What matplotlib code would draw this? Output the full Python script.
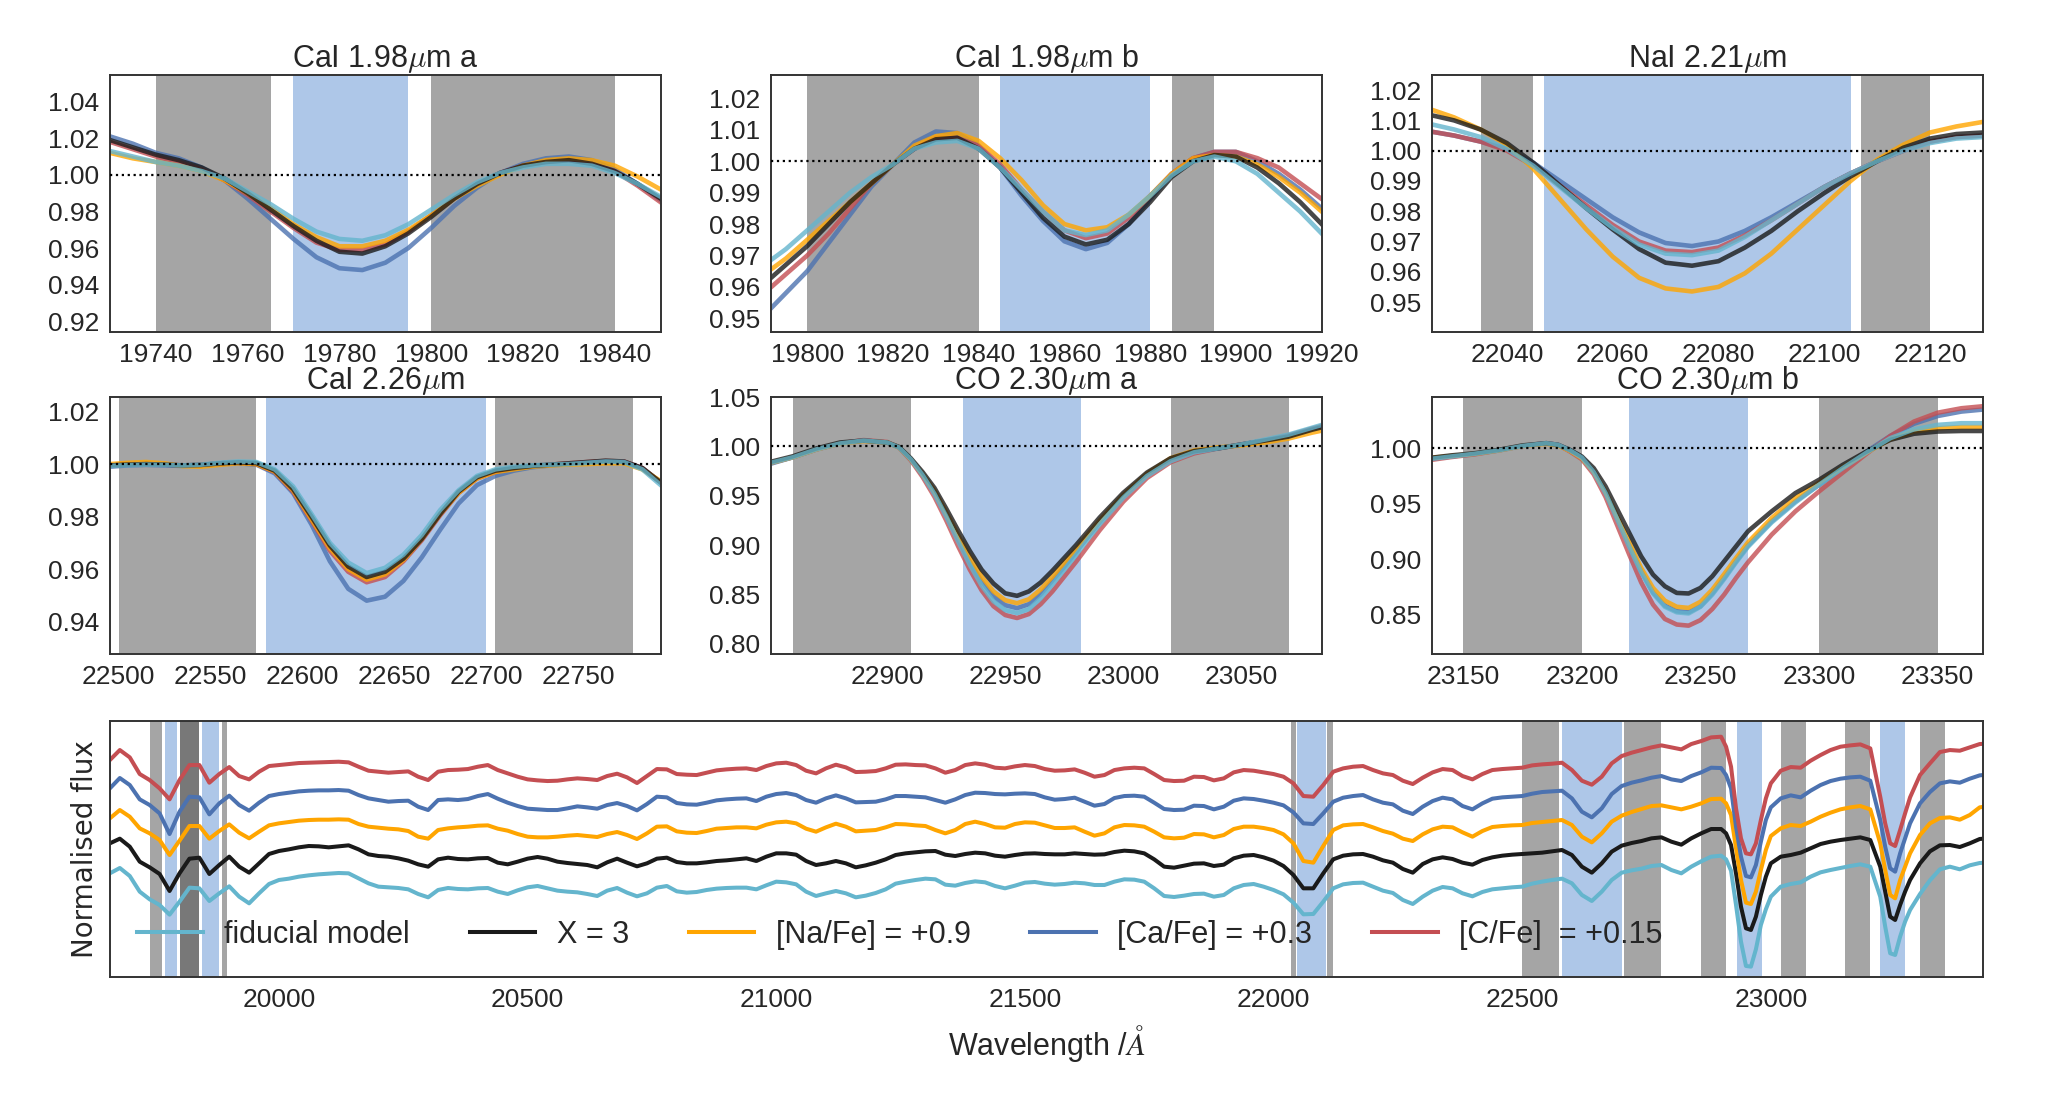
import numpy as np
import matplotlib
matplotlib.use("Agg")
import matplotlib.pyplot as plt
from matplotlib.ticker import FormatStrFormatter


# ---------------- data: zoomed line windows ----------------

# CaI 1.98um a
p1_wave = np.arange(19730, 19851, 5)
p1_fid = [1.013, 1.010, 1.007, 1.005, 1.002, 0.998, 0.991, 0.984, 0.976, 0.969, 0.965, 0.964, 0.967,
          0.973, 0.981, 0.989, 0.996, 1.001, 1.004, 1.006, 1.006, 1.005, 1.001, 0.995, 0.988]
p1_x3 = [1.019, 1.015, 1.011, 1.008, 1.004, 0.998, 0.990, 0.981, 0.972, 0.964, 0.958, 0.957, 0.961,
         0.968, 0.977, 0.987, 0.995, 1.001, 1.005, 1.007, 1.008, 1.006, 1.002, 0.995, 0.987]
p1_na = [1.012, 1.009, 1.007, 1.005, 1.002, 0.997, 0.990, 0.982, 0.973, 0.966, 0.961, 0.961, 0.964,
         0.970, 0.978, 0.987, 0.994, 1.000, 1.005, 1.008, 1.009, 1.008, 1.005, 0.999, 0.992]
p1_ca = [1.021, 1.017, 1.012, 1.009, 1.004, 0.997, 0.987, 0.976, 0.965, 0.955, 0.949, 0.948, 0.952,
         0.960, 0.971, 0.983, 0.993, 1.001, 1.006, 1.009, 1.010, 1.008, 1.003, 0.995, 0.986]
p1_c = [1.018, 1.014, 1.010, 1.007, 1.003, 0.997, 0.989, 0.980, 0.971, 0.963, 0.959, 0.959, 0.962,
        0.969, 0.978, 0.987, 0.995, 1.001, 1.005, 1.007, 1.008, 1.006, 1.002, 0.994, 0.985]

# CaI 1.98um b
p2_wave = np.arange(19790, 19921, 5)
p2_fid = [0.967, 0.972, 0.978, 0.984, 0.990, 0.995, 0.999, 1.004, 1.006, 1.0065, 1.004, 0.998, 0.991, 0.984,
          0.978, 0.9765, 0.978, 0.983, 0.989, 0.9955, 1.000, 1.0015, 1.000, 0.996, 0.990, 0.984, 0.977]
p2_x3 = [0.961, 0.967, 0.973, 0.980, 0.987, 0.993, 0.999, 1.004, 1.007, 1.0075, 1.004, 0.998, 0.990, 0.982,
         0.976, 0.9735, 0.975, 0.980, 0.987, 0.995, 1.000, 1.002, 1.0015, 0.998, 0.993, 0.987, 0.980]
p2_na = [0.964, 0.969, 0.975, 0.981, 0.987, 0.993, 0.999, 1.005, 1.008, 1.009, 1.0065, 1.001, 0.994, 0.986,
         0.980, 0.978, 0.979, 0.983, 0.989, 0.996, 1.001, 1.002, 1.0015, 0.999, 0.995, 0.990, 0.984]
p2_ca = [0.951, 0.958, 0.965, 0.974, 0.983, 0.992, 0.999, 1.006, 1.0095, 1.009, 1.005, 0.998, 0.989, 0.981,
         0.9745, 0.972, 0.974, 0.980, 0.988, 0.996, 1.001, 1.003, 1.003, 1.000, 0.996, 0.991, 0.985]
p2_c = [0.958, 0.964, 0.970, 0.977, 0.985, 0.993, 0.999, 1.004, 1.0075, 1.0075, 1.005, 0.999, 0.991, 0.984,
        0.978, 0.9755, 0.977, 0.982, 0.989, 0.996, 1.001, 1.003, 1.003, 1.001, 0.998, 0.993, 0.988]

# NaI 2.21um
p3_wave = np.arange(22025, 22131, 5)
p3_fid = [1.009, 1.007, 1.0045, 1.0005, 0.995, 0.988, 0.981, 0.9745, 0.969, 0.966, 0.9655,
          0.967, 0.9715, 0.977, 0.9825, 0.988, 0.9925, 0.9965, 1.000, 1.0025, 1.004, 1.0045]
p3_x3 = [1.012, 1.010, 1.007, 1.0025, 0.996, 0.9885, 0.981, 0.974, 0.9675, 0.963, 0.962,
         0.9635, 0.968, 0.9735, 0.980, 0.986, 0.9915, 0.9965, 1.001, 1.004, 1.0055, 1.006]
p3_na = [1.014, 1.011, 1.007, 1.002, 0.994, 0.984, 0.974, 0.965, 0.958, 0.9545, 0.9535,
         0.955, 0.9595, 0.966, 0.974, 0.982, 0.990, 0.997, 1.002, 1.006, 1.008, 1.0095]
p3_ca = [1.0065, 1.005, 1.003, 1.0005, 0.996, 0.990, 0.984, 0.978, 0.973, 0.9695, 0.9685,
         0.970, 0.9735, 0.978, 0.983, 0.988, 0.9925, 0.9965, 1.000, 1.003, 1.0045, 1.005]
p3_c = [1.0065, 1.005, 1.003, 1.000, 0.995, 0.9885, 0.982, 0.9755, 0.970, 0.967, 0.9665,
        0.968, 0.972, 0.977, 0.9825, 0.988, 0.9925, 0.9965, 1.000, 1.003, 1.0045, 1.005]

# CaI 2.26um
p4_wave = np.arange(22495, 22796, 10)
p4_fid = [0.9993, 0.9996, 0.9998, 0.9997, 0.9995, 0.9998, 1.0005, 1.0010, 1.0008, 0.9980, 0.9915,
          0.9810, 0.9700, 0.9625, 0.9585, 0.9605, 0.9655, 0.9730, 0.9825, 0.9900, 0.9955, 0.9980,
          0.9990, 0.9995, 0.9998, 1.0000, 1.0005, 1.0010, 1.0008, 0.9980, 0.9920]
p4_x3 = [0.9995, 0.9998, 1.0000, 0.9998, 0.9995, 0.9997, 1.0003, 1.0007, 1.0004, 0.9975, 0.9905,
         0.9800, 0.9690, 0.9610, 0.9570, 0.9590, 0.9640, 0.9715, 0.9810, 0.9895, 0.9950, 0.9975,
         0.9985, 0.9993, 0.9998, 1.0003, 1.0008, 1.0013, 1.0010, 0.9985, 0.9930]
p4_na = [1.0000, 1.0005, 1.0008, 1.0003, 0.9992, 0.9990, 0.9997, 1.0003, 1.0000, 0.9972, 0.9900,
         0.9790, 0.9680, 0.9600, 0.9560, 0.9580, 0.9635, 0.9715, 0.9810, 0.9890, 0.9945, 0.9970,
         0.9980, 0.9990, 0.9995, 0.9998, 1.0000, 1.0003, 1.0003, 0.9980, 0.9935]
p4_ca = [0.9990, 0.9995, 0.9997, 0.9995, 0.9993, 0.9995, 1.0000, 1.0003, 0.9998, 0.9965, 0.9890,
         0.9770, 0.9630, 0.9525, 0.9480, 0.9495, 0.9555, 0.9645, 0.9750, 0.9850, 0.9920, 0.9955,
         0.9975, 0.9988, 0.9995, 1.0000, 1.0005, 1.0010, 1.0008, 0.9985, 0.9930]
p4_c = [0.9995, 0.9998, 1.0000, 0.9998, 0.9995, 0.9997, 1.0002, 1.0005, 1.0000, 0.9970, 0.9895,
        0.9785, 0.9670, 0.9590, 0.9550, 0.9570, 0.9630, 0.9710, 0.9805, 0.9890, 0.9945, 0.9970,
        0.9985, 0.9993, 0.9998, 1.0003, 1.0008, 1.0012, 1.0010, 0.9985, 0.9930]

# CO 2.30um a
p5_wave = np.concatenate([np.arange(22850, 22901, 10), np.arange(22905, 22991, 5),
                          np.arange(23000, 23091, 10)])
p5_fid = [0.983, 0.989, 0.997, 1.003, 1.006, 1.004, 0.999, 0.987, 0.971, 0.952, 0.929, 0.904,
          0.880, 0.859, 0.843, 0.834, 0.831, 0.835, 0.846, 0.860, 0.875, 0.890, 0.906, 0.921,
          0.948, 0.970, 0.985, 0.994, 0.998, 1.002, 1.007, 1.012, 1.019, 1.026]
p5_x3 = [0.984, 0.990, 0.998, 1.004, 1.006, 1.004, 0.9995, 0.988, 0.974, 0.958, 0.937, 0.915,
         0.894, 0.875, 0.861, 0.851, 0.8485, 0.853, 0.862, 0.874, 0.887, 0.900, 0.914, 0.928,
         0.953, 0.9735, 0.988, 0.9953, 0.998, 1.002, 1.006, 1.010, 1.017, 1.023]
p5_na = [0.983, 0.989, 0.997, 1.003, 1.0055, 1.004, 0.999, 0.987, 0.972, 0.955, 0.933, 0.910,
         0.888, 0.868, 0.853, 0.844, 0.841, 0.845, 0.855, 0.868, 0.882, 0.896, 0.911, 0.925,
         0.951, 0.9725, 0.988, 0.996, 0.999, 1.001, 1.004, 1.008, 1.014, 1.019]
p5_ca = [0.982, 0.989, 0.997, 1.003, 1.006, 1.004, 0.999, 0.987, 0.971, 0.953, 0.930, 0.906,
         0.883, 0.863, 0.848, 0.839, 0.836, 0.840, 0.850, 0.864, 0.878, 0.893, 0.908, 0.923,
         0.950, 0.971, 0.986, 0.994, 0.998, 1.002, 1.006, 1.011, 1.018, 1.024]
p5_c = [0.983, 0.989, 0.997, 1.003, 1.0065, 1.0045, 0.999, 0.986, 0.969, 0.949, 0.925, 0.899,
        0.875, 0.854, 0.838, 0.829, 0.826, 0.830, 0.840, 0.853, 0.868, 0.883, 0.899, 0.915,
        0.944, 0.968, 0.984, 0.993, 0.998, 1.002, 1.006, 1.011, 1.018, 1.024]

# CO 2.30um b
p6_wave = np.concatenate([np.arange(23135, 23186, 10), np.arange(23190, 23271, 5),
                          np.arange(23280, 23371, 10)])
p6_fid = [0.990, 0.9925, 0.995, 0.998, 1.002, 1.0045, 1.003, 0.998, 0.9915, 0.9785, 0.9595,
          0.9355, 0.911, 0.888, 0.869, 0.857, 0.852, 0.851, 0.857, 0.868, 0.882, 0.897, 0.911,
          0.933, 0.951, 0.967, 0.982, 0.996, 1.009, 1.017, 1.021, 1.0225, 1.0225]
p6_x3 = [0.991, 0.9935, 0.9955, 0.9985, 1.0025, 1.0045, 1.003, 0.9985, 0.9925, 0.982, 0.9655,
         0.9445, 0.9235, 0.9025, 0.886, 0.8755, 0.8695, 0.869, 0.874, 0.8845, 0.898, 0.9115, 0.925,
         0.943, 0.9595, 0.9715, 0.985, 0.997, 1.0075, 1.013, 1.015, 1.0155, 1.0155]
p6_na = [0.991, 0.993, 0.995, 0.998, 1.002, 1.004, 1.0025, 0.9975, 0.991, 0.979, 0.961,
         0.938, 0.915, 0.892, 0.874, 0.8625, 0.857, 0.856, 0.8615, 0.8725, 0.8865, 0.901, 0.915,
         0.937, 0.955, 0.969, 0.983, 0.996, 1.008, 1.015, 1.018, 1.019, 1.019]
p6_ca = [0.990, 0.9925, 0.995, 0.998, 1.002, 1.0045, 1.003, 0.998, 0.9915, 0.979, 0.960,
         0.936, 0.912, 0.889, 0.870, 0.858, 0.853, 0.852, 0.8575, 0.869, 0.883, 0.898, 0.912,
         0.934, 0.952, 0.967, 0.982, 0.997, 1.011, 1.022, 1.029, 1.033, 1.035]
p6_c = [0.989, 0.992, 0.9945, 0.998, 1.002, 1.0045, 1.003, 0.997, 0.990, 0.9765, 0.956,
        0.930, 0.904, 0.879, 0.859, 0.846, 0.841, 0.840, 0.845, 0.855, 0.868, 0.883, 0.897,
        0.922, 0.943, 0.961, 0.978, 0.995, 1.011, 1.024, 1.032, 1.036, 1.038]

# feature (blue) and continuum (grey) bands for each index
bands_ca198a = [(19740, 19765), (19770, 19795), (19800, 19840)]
bands_ca198b = [(19800, 19840), (19845, 19880), (19885, 19895)]
bands_na221 = [(22035, 22045), (22047, 22105), (22107, 22120)]
bands_ca226 = [(22500, 22575), (22580, 22700), (22705, 22780)]
bands_co230a = [(22860, 22910), (22932, 22982), (23020, 23070)]
bands_co230b = [(23150, 23200), (23220, 23270), (23300, 23350)]

# ---------------- data: full spectrum ----------------
full_wave = np.concatenate([np.arange(19660, 22901, 20), np.arange(22910, 22991, 10),
                            np.arange(23000, 23221, 20), np.arange(23230, 23271, 10),
                            np.arange(23280, 23441, 20)])

full_fid = [
    1.0200, 1.0280, 1.0160, 0.9925, 0.9810, 0.9725, 0.9580, 0.9775, 0.9985, 0.9975,
    0.9785, 0.9900, 1.0005, 0.9850, 0.9750, 0.9900, 1.0040, 1.0100, 1.0120, 1.0150,
    1.0170, 1.0185, 1.0195, 1.0205, 1.0200, 1.0125, 1.0050, 1.0000, 0.9990, 0.9980,
    0.9960, 0.9890, 0.9840, 0.9950, 0.9980, 0.9965, 0.9960, 0.9975, 0.9980, 0.9925,
    0.9890, 0.9945, 0.9990, 1.0010, 0.9975, 0.9940, 0.9925, 0.9915,
    0.9890, 0.9860, 0.9940, 0.9980, 0.9910, 0.9855, 0.9900, 0.9985, 1.0010, 0.9930,
    0.9910, 0.9920, 0.9950, 0.9970, 0.9980, 0.9985, 0.9985, 0.9960, 1.0020, 1.0075,
    1.0065, 1.0035, 0.9925, 0.9860, 0.9900, 0.9935, 0.9900, 0.9840, 0.9865, 0.9905,
    0.9960, 1.0045, 1.0075, 1.0100, 1.0120, 1.0110, 1.0030, 1.0015, 1.0055, 1.0080,
    1.0065, 1.0010, 0.9975, 1.0015, 1.0060, 1.0070, 1.0045, 1.0030,
    1.0040, 1.0060, 1.0050, 1.0025, 1.0025, 1.0075, 1.0110, 1.0105, 1.0075, 0.9975,
    0.9860, 0.9845, 0.9865, 0.9890, 0.9895, 0.9850, 0.9875, 0.9975, 1.0025, 1.0040,
    1.0000, 0.9950, 0.9885, 0.9760, 0.9585, 0.9590, 0.9775, 0.9975, 1.0035, 1.0055,
    1.0060, 1.0000, 0.9940, 0.9905, 0.9800, 0.9740, 0.9850, 0.9940, 0.9995, 0.9975,
    0.9900, 0.9855, 0.9920, 0.9960, 0.9975, 0.9990, 1.0000, 1.0045,
    1.0075, 1.0100, 1.0120, 1.0050, 0.9875, 0.9785, 0.9925, 1.0100, 1.0210, 1.0245,
    1.0270, 1.0310, 1.0325, 1.0250, 1.0200, 1.0300, 1.0380, 1.0450, 1.0465,
    1.0410, 1.0240, 0.9725, 0.9175, 0.8810, 0.8800, 0.9060, 0.9425, 0.9660,
    0.9850, 1.0000, 1.0040, 1.0065, 1.0150, 1.0215, 1.0250, 1.0280, 1.0310, 1.0335, 1.0300, 0.9850,
    0.9400, 0.9000, 0.8975, 0.9250, 0.9475,
    0.9650, 0.9890, 1.0095, 1.0260, 1.0300, 1.0260, 1.0320, 1.0355, 1.0365]

full_x3 = [
    1.0225, 1.0295, 1.0175, 0.9950, 0.9865, 0.9765, 0.9510, 0.9775, 0.9995, 1.0010,
    0.9765, 0.9900, 1.0025, 0.9875, 0.9785, 0.9925, 1.0065, 1.0110, 1.0135, 1.0165,
    1.0185, 1.0180, 1.0165, 1.0180, 1.0195, 1.0135, 1.0060, 1.0035, 1.0025, 1.0000,
    0.9965, 0.9910, 0.9875, 0.9985, 1.0010, 0.9990, 0.9985, 1.0000, 1.0005, 0.9935,
    0.9910, 0.9950, 0.9995, 1.0020, 0.9995, 0.9950, 0.9930, 0.9915,
    0.9900, 0.9865, 0.9940, 0.9995, 0.9935, 0.9880, 0.9925, 0.9995, 1.0010, 0.9945,
    0.9925, 0.9925, 0.9940, 0.9960, 0.9970, 0.9985, 1.0000, 0.9960, 1.0025, 1.0075,
    1.0075, 1.0055, 0.9960, 0.9900, 0.9925, 0.9960, 0.9925, 0.9865, 0.9895, 0.9935,
    0.9985, 1.0050, 1.0075, 1.0090, 1.0105, 1.0110, 1.0055, 1.0035, 1.0065, 1.0085,
    1.0075, 1.0040, 1.0025, 1.0050, 1.0070, 1.0075, 1.0065, 1.0060,
    1.0060, 1.0075, 1.0065, 1.0055, 1.0060, 1.0095, 1.0115, 1.0105, 1.0075, 0.9985,
    0.9875, 0.9860, 0.9890, 0.9920, 0.9925, 0.9885, 0.9905, 1.0000, 1.0040, 1.0050,
    1.0015, 0.9965, 0.9885, 0.9750, 0.9550, 0.9550, 0.9775, 0.9985, 1.0040, 1.0060,
    1.0065, 1.0025, 0.9970, 0.9935, 0.9840, 0.9785, 0.9915, 0.9985, 1.0015, 0.9990,
    0.9935, 0.9905, 0.9975, 1.0015, 1.0040, 1.0055, 1.0065, 1.0075,
    1.0085, 1.0105, 1.0125, 1.0050, 0.9875, 0.9785, 0.9925, 1.0100, 1.0190, 1.0230,
    1.0260, 1.0300, 1.0315, 1.0250, 1.0205, 1.0300, 1.0375, 1.0440, 1.0440,
    1.0375, 1.0200, 0.9775, 0.9275, 0.8950, 0.8925, 0.9125, 0.9450, 0.9725,
    0.9925, 1.0025, 1.0050, 1.0085, 1.0150, 1.0215, 1.0250, 1.0275, 1.0295, 1.0315, 1.0275, 0.9875,
    0.9500, 0.9125, 0.9075, 0.9300, 0.9500,
    0.9675, 0.9925, 1.0105, 1.0195, 1.0200, 1.0170, 1.0225, 1.0290, 1.0305]

full_na = [
    1.0175, 1.0300, 1.0200, 1.0025, 0.9950, 0.9850, 0.9625, 0.9840, 1.0060, 1.0060,
    0.9870, 0.9985, 1.0085, 0.9960, 0.9875, 0.9975, 1.0070, 1.0100, 1.0120, 1.0140,
    1.0150, 1.0155, 1.0155, 1.0160, 1.0155, 1.0090, 1.0050, 1.0035, 1.0020, 1.0010,
    0.9985, 0.9900, 0.9870, 1.0000, 1.0025, 1.0040, 1.0050, 1.0065, 1.0070, 1.0020,
    0.9990, 0.9940, 0.9900, 0.9890, 0.9890, 0.9900, 0.9915, 0.9925,
    0.9910, 0.9895, 0.9940, 0.9970, 0.9925, 0.9865, 0.9950, 1.0050, 1.0055, 0.9980,
    0.9960, 0.9955, 0.9985, 1.0020, 1.0030, 1.0040, 1.0040, 1.0025, 1.0080, 1.0115,
    1.0125, 1.0100, 1.0020, 0.9975, 1.0040, 1.0095, 1.0050, 0.9980, 0.9990, 1.0000,
    1.0040, 1.0090, 1.0085, 1.0070, 1.0060, 1.0000, 0.9950, 1.0000, 1.0090, 1.0125,
    1.0090, 1.0040, 1.0035, 1.0090, 1.0115, 1.0110, 1.0070, 1.0030,
    1.0030, 1.0040, 0.9975, 0.9915, 0.9950, 1.0040, 1.0075, 1.0070, 1.0050, 0.9975,
    0.9890, 0.9875, 0.9885, 0.9940, 0.9935, 0.9890, 0.9925, 1.0015, 1.0050, 1.0050,
    1.0030, 1.0000, 0.9935, 0.9800, 0.9535, 0.9510, 0.9760, 1.0000, 1.0070, 1.0085,
    1.0090, 1.0040, 0.9985, 0.9945, 0.9870, 0.9835, 0.9935, 1.0010, 1.0050, 1.0040,
    0.9965, 0.9900, 0.9985, 1.0045, 1.0060, 1.0070, 1.0075, 1.0105,
    1.0120, 1.0135, 1.0150, 1.0075, 0.9900, 0.9815, 0.9950, 1.0125, 1.0215, 1.0270,
    1.0315, 1.0360, 1.0370, 1.0340, 1.0310, 1.0350, 1.0400, 1.0465, 1.0470,
    1.0400, 1.0225, 0.9725, 0.9250, 0.8910, 0.8890, 0.9075, 0.9400, 0.9700,
    0.9910, 1.0025, 1.0075, 1.0060, 1.0125, 1.0200, 1.0260, 1.0310, 1.0340, 1.0360, 1.0310, 0.9800,
    0.9400, 0.9025, 0.8975, 0.9250, 0.9450,
    0.9650, 0.9925, 1.0100, 1.0180, 1.0190, 1.0155, 1.0225, 1.0340, 1.0360]

full_ca = [
    1.0200, 1.0355, 1.0250, 1.0035, 0.9950, 0.9825, 0.9515, 0.9850, 1.0075, 1.0065,
    0.9810, 0.9975, 1.0090, 0.9950, 0.9865, 0.9985, 1.0085, 1.0115, 1.0135, 1.0155,
    1.0165, 1.0170, 1.0170, 1.0175, 1.0165, 1.0100, 1.0050, 1.0025, 1.0000, 1.0010,
    1.0015, 0.9925, 0.9875, 1.0025, 1.0035, 1.0025, 1.0040, 1.0085, 1.0115, 1.0045,
    0.9985, 0.9935, 0.9895, 0.9885, 0.9875, 0.9875, 0.9900, 0.9930,
    0.9915, 0.9895, 0.9950, 0.9980, 0.9935, 0.9870, 0.9965, 1.0075, 1.0065, 0.9980,
    0.9960, 0.9955, 0.9985, 1.0020, 1.0035, 1.0045, 1.0050, 1.0010, 1.0075, 1.0115,
    1.0130, 1.0100, 1.0025, 0.9985, 1.0050, 1.0095, 1.0050, 0.9990, 0.9995, 1.0000,
    1.0035, 1.0085, 1.0085, 1.0075, 1.0065, 1.0025, 0.9985, 1.0035, 1.0100, 1.0135,
    1.0130, 1.0115, 1.0110, 1.0120, 1.0125, 1.0115, 1.0065, 1.0030,
    1.0040, 1.0060, 1.0000, 0.9940, 0.9965, 1.0055, 1.0085, 1.0090, 1.0075, 0.9985,
    0.9890, 0.9875, 0.9880, 0.9940, 0.9935, 0.9885, 0.9925, 1.0015, 1.0050, 1.0040,
    1.0015, 0.9985, 0.9945, 0.9840, 0.9675, 0.9665, 0.9825, 1.0000, 1.0060, 1.0085,
    1.0100, 1.0035, 0.9985, 0.9960, 0.9865, 0.9815, 0.9925, 1.0010, 1.0060, 1.0035,
    0.9935, 0.9885, 0.9975, 1.0045, 1.0065, 1.0075, 1.0085, 1.0120,
    1.0145, 1.0155, 1.0165, 1.0050, 0.9850, 0.9765, 0.9900, 1.0115, 1.0235, 1.0285,
    1.0320, 1.0360, 1.0385, 1.0335, 1.0310, 1.0385, 1.0440, 1.0510, 1.0505,
    1.0400, 1.0200, 0.9625, 0.9175, 0.8885, 0.8865, 0.9050, 0.9400, 0.9725,
    0.9915, 1.0050, 1.0095, 1.0065, 1.0165, 1.0250, 1.0310, 1.0345, 1.0365, 1.0375, 1.0315, 0.9725,
    0.9325, 0.9000, 0.8950, 0.9225, 0.9450,
    0.9675, 0.9975, 1.0145, 1.0275, 1.0305, 1.0285, 1.0345, 1.0395, 1.0410]

full_c = [
    1.0200, 1.0350, 1.0240, 0.9990, 0.9900, 0.9775, 0.9610, 0.9900, 1.0125, 1.0125,
    0.9860, 0.9990, 1.0095, 0.9960, 0.9910, 1.0025, 1.0110, 1.0125, 1.0140, 1.0155,
    1.0160, 1.0165, 1.0170, 1.0175, 1.0165, 1.0100, 1.0040, 1.0025, 1.0010, 1.0020,
    1.0030, 0.9950, 0.9900, 1.0025, 1.0050, 1.0055, 1.0065, 1.0100, 1.0125, 1.0050,
    1.0000, 0.9950, 0.9910, 0.9895, 0.9885, 0.9890, 0.9910, 0.9925,
    0.9915, 0.9900, 0.9960, 0.9995, 0.9940, 0.9855, 0.9960, 1.0065, 1.0060, 0.9990,
    0.9980, 0.9975, 1.0010, 1.0045, 1.0060, 1.0070, 1.0075, 1.0050, 1.0110, 1.0150,
    1.0160, 1.0125, 1.0040, 1.0000, 1.0075, 1.0130, 1.0090, 1.0020, 1.0025, 1.0035,
    1.0075, 1.0130, 1.0135, 1.0125, 1.0120, 1.0075, 1.0010, 1.0050, 1.0125, 1.0150,
    1.0130, 1.0085, 1.0075, 1.0105, 1.0125, 1.0110, 1.0065, 1.0040,
    1.0045, 1.0060, 1.0010, 0.9950, 0.9975, 1.0050, 1.0075, 1.0085, 1.0075, 0.9990,
    0.9900, 0.9885, 0.9890, 0.9950, 0.9945, 0.9895, 0.9925, 1.0015, 1.0050, 1.0040,
    1.0015, 0.9990, 0.9950, 0.9850, 0.9660, 0.9650, 0.9825, 1.0025, 1.0075, 1.0100,
    1.0110, 1.0050, 1.0000, 0.9975, 0.9890, 0.9840, 0.9935, 1.0015, 1.0065, 1.0050,
    0.9960, 0.9910, 0.9990, 1.0050, 1.0065, 1.0075, 1.0085, 1.0120,
    1.0135, 1.0145, 1.0160, 1.0050, 0.9890, 0.9830, 0.9950, 1.0150, 1.0260, 1.0310,
    1.0350, 1.0390, 1.0420, 1.0390, 1.0360, 1.0440, 1.0485, 1.0540, 1.0550,
    1.0400, 1.0100, 0.9475, 0.9025, 0.8800, 0.8785, 0.8950, 0.9300, 0.9625,
    0.9850, 1.0040, 1.0095, 1.0085, 1.0190, 1.0275, 1.0350, 1.0400, 1.0420, 1.0435, 1.0375, 0.9650,
    0.9250, 0.8950, 0.8910, 0.9150, 0.9400,
    0.9640, 0.9975, 1.0150, 1.0320, 1.0350, 1.0340, 1.0390, 1.0440, 1.0450]

model_labels = ["fiducial model", "X = 3", "[Na/Fe] = +0.9", "[Ca/Fe] = +0.3", "[C/Fe]  = +0.15"]
model_colors = ["#64b5cd", "#1a1a1a", "#ffa500", "#4c72b0", "#c44e52"]
stack_offsets = [0.0, 0.0425, 0.085, 0.1275, 0.17]


# ---------------- style ----------------
plt.rcParams["font.family"] = ["Liberation Sans", "DejaVu Sans"]
plt.rcParams["mathtext.fontset"] = "cm"
plt.rcParams["axes.edgecolor"] = "0.2"
plt.rcParams["axes.linewidth"] = 1.4
plt.rcParams["xtick.major.size"] = 0
plt.rcParams["ytick.major.size"] = 0
plt.rcParams["xtick.major.pad"] = 7.5
plt.rcParams["ytick.major.pad"] = 7.5
plt.rcParams["xtick.color"] = "0.15"
plt.rcParams["ytick.color"] = "0.15"
plt.rcParams["xtick.labelsize"] = 19
plt.rcParams["ytick.labelsize"] = 19
plt.rcParams["text.color"] = "0.15"
plt.rcParams["axes.labelcolor"] = "0.15"

grey_band = dict(color="0.3", alpha=0.5, lw=0)
blue_band = dict(color="#aec7e8", lw=0)


def shade(ax, bands):
    ax.axvspan(bands[0][0], bands[0][1], zorder=0, **grey_band)
    ax.axvspan(bands[1][0], bands[1][1], zorder=0, **blue_band)
    ax.axvspan(bands[2][0], bands[2][1], zorder=0, **grey_band)


panels = [
    ("CaI 1.98$\\mu$m a", p1_wave, [p1_fid, p1_x3, p1_na, p1_ca, p1_c], bands_ca198a,
     (19730, 19850), (0.914, 1.0545), np.arange(19740, 19841, 20), np.arange(0.92, 1.041, 0.02)),
    ("CaI 1.98$\\mu$m b", p2_wave, [p2_fid, p2_x3, p2_na, p2_ca, p2_c], bands_ca198b,
     (19791.5, 19920), (0.9455, 1.0275), np.arange(19800, 19921, 20), np.arange(0.95, 1.021, 0.01)),
    ("NaI 2.21$\\mu$m", p3_wave, [p3_fid, p3_x3, p3_na, p3_ca, p3_c], bands_na221,
     (22025.8, 22130), (0.940, 1.025), np.arange(22040, 22121, 20), np.arange(0.95, 1.021, 0.01)),
    ("CaI 2.26$\\mu$m", p4_wave, [p4_fid, p4_x3, p4_na, p4_ca, p4_c], bands_ca226,
     (22495.3, 22795), (0.9275, 1.0255), np.arange(22500, 22751, 50), np.arange(0.94, 1.021, 0.02)),
    ("CO 2.30$\\mu$m a", p5_wave, [p5_fid, p5_x3, p5_na, p5_ca, p5_c], bands_co230a,
     (22850.7, 23084), (0.789, 1.048), np.arange(22900, 23051, 50), np.arange(0.80, 1.051, 0.05)),
    ("CO 2.30$\\mu$m b", p6_wave, [p6_fid, p6_x3, p6_na, p6_ca, p6_c], bands_co230b,
     (23136.8, 23369), (0.814, 1.046), np.arange(23150, 23351, 50), np.arange(0.85, 1.001, 0.05)),
]

fig = plt.figure(figsize=(20.5, 10.95), dpi=100)

col_left = [0.0536, 0.3760, 0.6985]
row_bottom = [0.6965, 0.4023]
panel_w = 0.2687
panel_h = 0.2350

# draw order: Ca, C, Na, X, fiducial on top
draw_order = [3, 4, 2, 1, 0]

for i, (title, wave, series, bands, xlim, ylim, xt, yt) in enumerate(panels):
    ax = fig.add_axes([col_left[i % 3], row_bottom[i // 3], panel_w, panel_h])
    shade(ax, bands)
    for k in draw_order:
        ax.plot(wave, series[k], color=model_colors[k], lw=3.3, alpha=0.8, zorder=2)
    ax.axhline(1.0, color="k", ls=":", lw=1.6, zorder=3)
    ax.set_xlim(*xlim)
    ax.set_ylim(*ylim)
    ax.set_xticks(xt)
    ax.set_yticks(yt)
    ax.yaxis.set_major_formatter(FormatStrFormatter("%.2f"))
    ax.set_title(title, fontsize=22, pad=5)

# full spectrum
axf = fig.add_axes([0.0536, 0.1075, 0.9138, 0.2343])
for bands in [bands_ca198a, bands_ca198b, bands_na221, bands_ca226, bands_co230a, bands_co230b]:
    shade(axf, bands)

full_series = [full_fid, full_x3, full_na, full_ca, full_c]
handles = []
for k in range(5):
    line, = axf.plot(full_wave, np.array(full_series[k]) + stack_offsets[k],
                     color=model_colors[k], lw=2.9, zorder=2)
    handles.append(line)

axf.set_xlim(19660, 23427)
axf.set_ylim(0.864, 1.249)
axf.set_xticks(np.arange(20000, 23001, 500))
axf.set_yticks([])
axf.set_xlabel("Wavelength /$\\AA$", fontsize=22, labelpad=8)
axf.set_ylabel("Normalised flux", fontsize=20, family="DejaVu Sans", labelpad=8)

axf.legend(handles, model_labels, loc="lower left", ncol=5, frameon=False, fontsize=22,
           handlelength=2.15, handletextpad=0.7, columnspacing=1.95)

plt.savefig("out.png", dpi=100)
plt.close()

print("Chart generated successfully")
